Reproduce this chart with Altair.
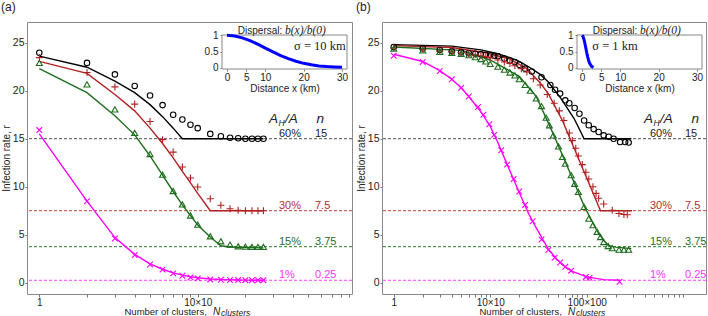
import altair as alt
import pandas as pd

FONT = "Liberation Sans"
SERIF = "Liberation Serif"

# ---------------- shared definitions ----------------
SERIES = ["60%", "30%", "15%", "1%"]
COLORS = ["#000000", "#b22222", "#1e6e1e", "#ff00ff"]
DASH_COLORS = ["#505050", "#c04040", "#2f7a2f", "#ff40ff"]
SHAPES = ["circle", "M-1,0L1,0M0,-1L0,1", "triangle-up", "M-1,-1L1,1M-1,1L1,-1"]
SIZES = [30, 50, 36, 32]
LEVELS = [15, 7.5, 3.75, 0.25]
LEVEL_TEXT = ["15", "7.5", "3.75", "0.25"]

Y_DOMAIN = [-1.18, 27.16]
Y_TICKS = [0, 5, 10, 15, 20, 25]

# ---------------- panel (a): sigma = 10 km ----------------
A_SIM_N = [1, 2, 3, 4, 5, 6, 7, 8, 9, 10, 12, 14, 16, 18, 20, 22, 24, 26]
A_SIM_R60 = [23.96, 22.9, 21.7, 20.5, 19.5, 18.5, 17.5, 17.0, 16.45, 16.1,
             15.5, 15.25, 15.1, 15.05, 15.0, 15.0, 15.0, 15.0]
A_SIM_R30 = [23.45, 21.9, 20.4, 18.6, 16.8, 14.9, 13.6, 12.05, 10.9, 9.97,
             8.75, 8.06, 7.7, 7.55, 7.5, 7.5, 7.5, 7.5]
A_SIM_R15 = [22.9, 20.66, 18.06, 15.6, 13.4, 11.25, 9.55, 8.16, 7.0, 6.04,
             4.83, 4.31, 3.96, 3.79, 3.75, 3.72, 3.72, 3.72]
A_SIM_R1 = [15.9, 8.48, 4.6, 2.88, 1.9, 1.36, 0.97, 0.72, 0.55, 0.45,
            0.34, 0.3, 0.28, 0.27, 0.26, 0.26, 0.26, 0.26]

A_MOD_N60 = [1, 2, 3, 4, 5, 6, 7, 8, 26]
A_MOD_R60 = [23.6, 22.45, 21.0, 19.8, 18.55, 17.3, 16.1, 15.0, 15.0]
A_MOD_N30 = [1, 2, 3, 4, 5, 6, 7, 8, 9, 10, 12, 26]
A_MOD_R30 = [23.06, 21.8, 19.6, 17.9, 16.1, 14.5, 13.0, 11.6, 10.4, 9.3, 7.5, 7.5]
A_MOD_N15 = [1, 2, 3, 4, 5, 6, 7, 8, 9, 10, 12, 14, 16, 26]
A_MOD_R15 = [22.3, 19.8, 17.4, 15.4, 13.2, 11.2, 9.5, 8.1, 7.0, 6.0, 4.76, 3.85, 3.72, 3.62]
A_MOD_N1 = [1, 2, 3, 4, 5, 6, 7, 8, 9, 10, 12, 14, 16, 18, 20, 22, 24, 26]
A_MOD_R1 = [15.5, 8.5, 4.7, 2.95, 1.97, 1.4, 1.02, 0.78, 0.62, 0.51,
            0.39, 0.33, 0.3, 0.28, 0.27, 0.26, 0.26, 0.25]

A_X_DOMAIN = [0.836, 94.2]
A_X_TICKS = [1, 2, 3, 4, 5, 6, 7, 8, 9, 10, 20, 30, 40, 50, 60, 70, 80, 90]

# dispersal kernel b(x)/b(0), sigma = 10 km
A_KM = [0, 2, 4, 6, 8, 10, 12, 14, 16, 18, 20, 22, 24, 26, 28, 30]
A_B = [1.0, 0.98, 0.923, 0.835, 0.726, 0.607, 0.487, 0.375, 0.278, 0.198,
       0.135, 0.089, 0.056, 0.034, 0.02, 0.011]

# ---------------- panel (b): sigma = 1 km ----------------
B_SIM_N60 = [1, 2, 3, 4, 5, 6, 7, 8, 9, 10, 11, 12, 14, 16, 18, 20, 23, 27, 34, 42,
             47, 53, 60, 66, 75, 84, 94, 105, 118, 133, 150, 169, 190, 222, 250, 272]
B_SIM_R60 = [24.55, 24.4, 24.25, 24.1, 24.0, 23.9, 23.85, 23.8, 23.75, 23.7, 23.65,
             23.6, 23.35, 23.15, 23.0, 22.7, 22.3, 22.0, 21.4, 20.6, 20.1, 19.7, 19.0,
             18.7, 18.2, 17.6, 16.9, 16.4, 16.0, 15.7, 15.35, 15.2, 15.0, 14.65,
             14.65, 14.6]
B_SIM_N30 = [1, 2, 3, 4, 5, 6, 7, 8, 9, 10, 12, 14, 16, 18, 21, 24, 28, 33, 39, 46,
             52, 58, 66, 71, 77, 82, 90, 98, 105, 116, 125, 133, 150, 184, 216, 243, 263]
B_SIM_R30 = [24.45, 24.3, 24.15, 24.05, 23.95, 23.85, 23.75, 23.65, 23.55, 23.45,
             23.2, 23.0, 22.85, 22.6, 22.3, 21.95, 21.25, 20.6, 19.6, 18.7, 17.9,
             16.9, 15.6, 14.8, 14.0, 13.2, 12.3, 11.5, 10.8, 10.0, 9.3, 8.8, 8.2,
             7.55, 7.2, 7.1, 7.08]
B_SIM_N15 = [1, 2, 3, 4, 5, 6, 7, 8, 9, 10, 12, 14, 16, 18, 20, 23, 26, 30, 34, 38,
             41, 45, 51, 56, 60, 69, 75, 82, 94, 105, 116, 128, 139, 150, 167, 184,
             216, 243, 272]
B_SIM_R15 = [24.4, 24.2, 24.05, 23.95, 23.85, 23.7, 23.5, 23.3, 23.05, 22.8, 22.5,
             22.2, 21.9, 21.6, 21.2, 20.6, 20.0, 19.2, 18.4, 17.2, 16.4, 15.35, 14.2,
             13.1, 12.4, 11.2, 10.3, 9.45, 7.9, 6.67, 6.0, 5.3, 4.76, 4.24, 3.82,
             3.6, 3.44, 3.44, 3.44]
B_SIM_N1 = [1, 2, 3, 4, 5, 6, 7.5, 8.5, 9.8, 11, 13, 15, 17.5, 20, 23, 27.5, 34, 40,
            46.5, 53, 60, 69, 98, 107, 219]
B_SIM_R1 = [23.65, 23.0, 22.05, 21.2, 20.3, 19.4, 18.3, 17.5, 16.5, 15.4, 13.8, 12.3,
            10.8, 9.5, 8.1, 6.4, 4.5, 3.4, 2.6, 2.1, 1.65, 1.25, 0.6, 0.5, 0.1]

B_MOD_N60 = [1, 4, 8, 12, 16, 20, 25, 33, 40, 54, 74, 94, 290]
B_MOD_R60 = [24.8, 24.65, 24.25, 23.85, 23.45, 23.05, 22.5, 21.7, 20.9, 19.2, 17.1, 15.0, 15.0]
B_MOD_N30 = [1, 4, 9, 16, 24, 33, 40, 56, 100, 139, 295]
B_MOD_R30 = [24.7, 24.5, 23.95, 23.3, 22.3, 20.8, 19.7, 16.9, 10.9, 7.5, 7.5]
B_MOD_N15 = [1, 5, 10, 20, 30, 45, 60, 94, 128, 150, 170, 200, 290]
B_MOD_R15 = [24.55, 24.2, 23.2, 21.5, 19.4, 15.5, 12.6, 8.0, 5.4, 4.4, 3.85, 3.7, 3.55]
B_MOD_N1 = [1, 2, 3, 4, 5, 6, 8, 10, 12, 15, 20, 25, 30, 40, 50, 60, 70, 100, 150, 220]
B_MOD_R1 = [23.8, 23.05, 22.1, 21.2, 20.3, 19.4, 17.8, 16.3, 14.6, 12.3, 9.4, 7.2, 5.7,
            3.5, 2.35, 1.65, 1.2, 0.6, 0.32, 0.25]

B_X_DOMAIN = [0.756, 1723]
B_X_TICKS = ([1, 2, 3, 4, 5, 6, 7, 8, 9] + [10, 20, 30, 40, 50, 60, 70, 80, 90]
             + [100, 200, 300, 400, 500, 600, 700, 800, 900, 1000])

# dispersal kernel b(x)/b(0), sigma = 1 km
B_KM = [0, 0.25, 0.5, 0.75, 1.0, 1.25, 1.5, 1.75, 2.0, 2.5, 3.0]
B_B = [1.0, 0.97, 0.88, 0.755, 0.607, 0.458, 0.325, 0.216, 0.135, 0.044, 0.011]

# inset axes (km, relative kernel) and their pixel placement inside each panel
INSET_X = [-1.3, 31.3]
INSET_Y = [-0.04, 1.01]
INSET_X_TICKS = [0, 5, 10, 20, 30]
INSET_Y_TICKS = [0, 0.5, 1]

X_LABELS = ("datum.value == 1 ? '1' : datum.value == 10 ? '10\u00d710' : "
            "datum.value == 100 ? '100\u00d7100' : ''")

ONE = pd.DataFrame({"k": [0]})


def frame_of(ns_list, rs_list):
    rows = []
    for s, col, ns, rs in zip(SERIES, COLORS, ns_list, rs_list):
        for n, r in zip(ns, rs):
            rows.append({"N": n, "r": r, "s": s, "col": col})
    return pd.DataFrame(rows)


def label(text, x, y, size, style="normal", font=FONT, align="left", color="#222222"):
    return alt.Chart(ONE).mark_text(
        text=text, fontSize=size, fontStyle=style, font=font, align=align,
        baseline="alphabetic", color=color,
    ).encode(x=alt.value(x), y=alt.value(y))


def panel(sim, mod, xdom, xticks, width, tag, km, bvals, sigma, sig_x, sig_align,
          pct_x, num_x, head_x):
    xs = alt.Scale(type="log", domain=xdom, nice=False)
    ys = alt.Scale(domain=Y_DOMAIN, nice=False, zero=False)
    xax = alt.Axis(
        values=xticks, labelExpr=X_LABELS, title="Number of clusters,",
        titleX=97, titleY=20.5, titleAlign="left", titleBaseline="alphabetic",
        titleFontWeight="normal", titleFontSize=9.5, labelFontSize=10,
        grid=False, domain=False, tickSize=3, labelPadding=0,
        labelOverlap=False, labelFlush=False, tickColor="#777777",
    )
    yax = alt.Axis(
        values=Y_TICKS, title="Infection rate, r", titleX=-18, titleY=136,
        titleBaseline="alphabetic", titleFontWeight="normal", titleFontSize=10,
        labelFontSize=10.5, grid=False, domain=False, tickSize=2, labelPadding=1,
        tickColor="#777777",
    )
    X = alt.X("N:Q", scale=xs, axis=xax)
    Y = alt.Y("r:Q", scale=ys, axis=yax)

    lev = pd.DataFrame({"level": LEVELS, "pct": SERIES, "num": LEVEL_TEXT,
                        "dcol": DASH_COLORS,
                        "tcol": ["#222222", "#b03030", "#2a6e2a", "#ff33ff"]})

    rules = alt.Chart(lev).mark_rule(strokeDash=[3, 2], strokeWidth=1).encode(
        y=alt.Y("level:Q", scale=ys, axis=yax),
        color=alt.Color("dcol:N", scale=None),
    )
    lines = alt.Chart(mod).mark_line(strokeWidth=1.4).encode(
        x=X, y=Y, color=alt.Color("col:N", scale=None), detail="s:N",
    )
    layers = [rules, lines]
    for s, shape, size, col in zip(SERIES, SHAPES, SIZES, COLORS):
        layers.append(
            alt.Chart(sim[sim.s == s]).mark_point(
                shape=shape, size=size, filled=False, strokeWidth=1.1,
                color=col, opacity=1,
            ).encode(x=X, y=Y)
        )
    for field, xpos in (("pct", pct_x), ("num", num_x)):
        layers.append(
            alt.Chart(lev).mark_text(
                align="left", baseline="alphabetic", dy=-2, fontSize=11, font=FONT,
            ).encode(
                y=alt.Y("level:Q", scale=ys, axis=yax), x=alt.value(xpos),
                text=f"{field}:N", color=alt.Color("tcol:N", scale=None),
            )
        )
    # column headers A_H/A and n
    layers += [
        label("A", head_x, 101, 13.5, "italic"),
        label("H", head_x + 9.5, 103.5, 8.5, "italic"),
        label("/A", head_x + 16, 101, 13.5, "italic"),
        label("n", head_x + 47.5, 101, 13.5, "italic"),
        # subscripted symbol of the x title
        label("N", 186, 292.5, 10, "italic"),
        label("clusters", 194, 293.5, 8.5, "italic"),
    ]
    main = alt.layer(*layers)

    # ---- inset: dispersal kernel ----
    ix = alt.Scale(domain=INSET_X, range=[195, 320], nice=False, zero=False)
    iy = alt.Scale(domain=INSET_Y, range=[47, 13], nice=False, zero=False)
    ixax = alt.Axis(
        orient="bottom", offset=-225, values=INSET_X_TICKS, title="Distance x (km)",
        titleFontSize=10, titleFontWeight="normal", titlePadding=1, labelFontSize=10,
        grid=False, domain=False, tickSize=2, labelPadding=1, labelFlush=False,
        labelOverlap=False, tickColor="#777777",
    )
    iyax = alt.Axis(
        orient="left", offset=-195, values=INSET_Y_TICKS, format="~g", title=None,
        labelFontSize=10, grid=False, domain=False, tickSize=2, labelPadding=2,
        tickColor="#777777",
    )
    box = pd.DataFrame({"x0": [INSET_X[0]], "x1": [INSET_X[1]],
                        "y0": [INSET_Y[0]], "y1": [INSET_Y[1]]})
    frame = alt.Chart(box).mark_rect(fill="white", stroke="#888888", strokeWidth=1).encode(
        x=alt.X("x0:Q", scale=ix, axis=ixax), x2="x1:Q",
        y=alt.Y("y0:Q", scale=iy, axis=iyax), y2="y1:Q",
    )
    curve = alt.Chart(pd.DataFrame({"km": km, "b": bvals})).mark_line(
        color="#0000ff", strokeWidth=3,
    ).encode(x=alt.X("km:Q", scale=ix, axis=ixax), y=alt.Y("b:Q", scale=iy, axis=iyax))
    inset = alt.layer(
        frame, curve,
        label("Dispersal:", 255.3, 11.7, 10, align="right"),
        label("b(x)/b(0)", 258, 11.7, 11.5, "italic", SERIF),
        label(sigma, sig_x, 28.3, 12.5, font=SERIF, align=sig_align),
    )

    return alt.layer(main, inset).resolve_scale(x="independent", y="independent").properties(
        width=width, height=272,
        title=alt.TitleParams(tag, anchor="start", fontSize=12, fontWeight="normal",
                              font=FONT, offset=8, color="#222222"),
    )


sim_a = frame_of([A_SIM_N] * 4, [A_SIM_R60, A_SIM_R30, A_SIM_R15, A_SIM_R1])
mod_a = frame_of([A_MOD_N60, A_MOD_N30, A_MOD_N15, A_MOD_N1],
                 [A_MOD_R60, A_MOD_R30, A_MOD_R15, A_MOD_R1])
sim_b = frame_of([B_SIM_N60, B_SIM_N30, B_SIM_N15, B_SIM_N1],
                 [B_SIM_R60, B_SIM_R30, B_SIM_R15, B_SIM_R1])
mod_b = frame_of([B_MOD_N60, B_MOD_N30, B_MOD_N15, B_MOD_N1],
                 [B_MOD_R60, B_MOD_R30, B_MOD_R15, B_MOD_R1])

left = panel(sim_a, mod_a, A_X_DOMAIN, A_X_TICKS, 325, "(a)", A_KM, A_B,
             "\u03c3 = 10 km", 318.7, "right", 252, 288, 242)
right = panel(sim_b, mod_b, B_X_DOMAIN, B_X_TICKS, 324, "(b)", B_KM, B_B,
              "\u03c3 = 1 km", 210.3, "left", 268, 303, 262)

chart = alt.hconcat(left, right, spacing=30, bounds="flush").properties(
    padding={"left": 0, "top": 0, "right": 0, "bottom": 0},
).configure(font=FONT).configure_view(
    stroke="#8a8a8a", strokeWidth=1,
).configure_axis(
    labelFont=FONT, titleFont=FONT, labelColor="#222222", titleColor="#222222",
)

chart.save("out.html", embed_options={"renderer": "svg", "actions": False})
